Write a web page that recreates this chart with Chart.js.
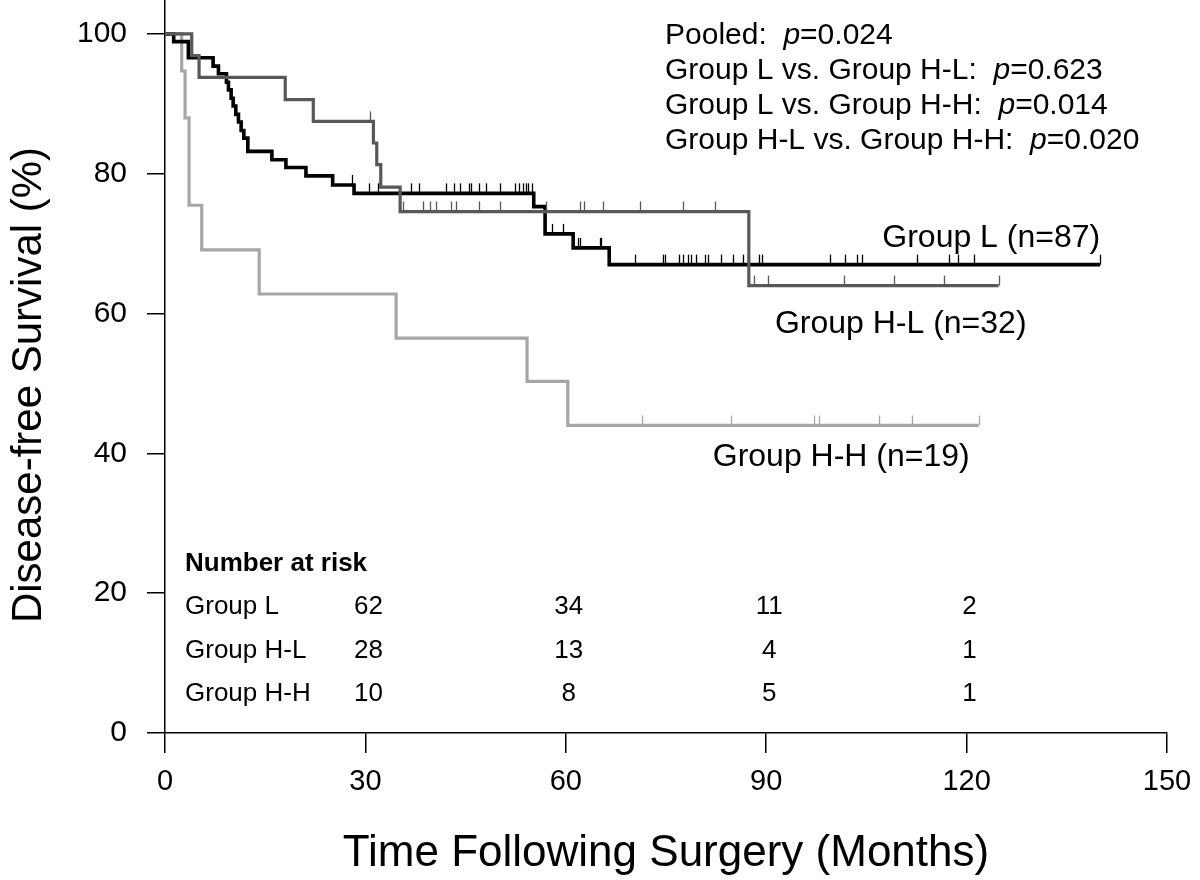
<!DOCTYPE html>
<html>
<head>
<meta charset="utf-8">
<script src="https://cdn.jsdelivr.net/npm/chart.js@4.4.1/dist/chart.umd.min.js"></script>
<style>
html, body { margin: 0; padding: 0; background: #fff; }
</style>
</head>
<body>
<canvas id="kmChart" width="1200" height="880"></canvas>
<script>
// Kaplan-Meier steps: time (months) of each drop and survival (%) after it
var groupLTimes = [0, 1.3, 3.5, 7.2, 8.0, 9.2, 9.5, 9.9, 10.2, 10.6, 11.0, 11.4, 11.8, 12.4, 16.0, 18.1, 21.1, 25.1, 28.3, 55.2, 56.9, 61.1, 66.5, 140];
var groupLSurv = [100, 98.9, 96.6, 95.4, 94.3, 93.1, 92.0, 90.8, 89.7, 88.5, 87.4, 86.2, 85.1, 83.2, 82.0, 80.9, 79.7, 78.4, 77.2, 75.3, 71.4, 69.4, 67.0, 67.0];
var groupLCensored = [28.0, 30.6, 31.9, 36.8, 38.0, 42.0, 43.2, 44.1, 45.5, 45.8, 47.0, 48.0, 50.1, 52.4, 53.0, 53.6, 54.0, 54.4, 54.9,
    58.0, 59.6, 61.8, 62.1, 65.1, 65.3, 70.3, 74.5, 74.8, 77.0, 77.6, 78.3, 78.8, 79.5, 80.8, 81.3, 83.3, 85.0, 86.6, 88.9, 89.3,
    99.6, 101.8, 103.6, 104.3, 112.6, 117.4, 118.7, 121.1, 140];

var groupHLTimes = [0, 4.0, 5.1, 18.0, 22.2, 31.2, 31.7, 32.3, 35.2, 87.4, 124.8];
var groupHLSurv = [100, 96.9, 93.8, 90.6, 87.5, 84.4, 81.3, 78.1, 74.6, 64.0, 64.0];
var groupHLCensored = [30.7, 35.6, 38.6, 39.6, 40.5, 42.8, 43.5, 47.0, 50.1, 57.1, 62.1, 62.7, 65.5, 71.1, 77.6, 82.3,
    88.2, 90.2, 101.6, 109.2, 116.6, 124.8];

var groupHHTimes = [0, 2.5, 3.0, 3.6, 5.5, 14.1, 34.6, 54.2, 60.3, 121.8];
var groupHHSurv = [100, 94.7, 88.0, 75.5, 69.1, 62.8, 56.5, 50.3, 44.0, 44.0];
var groupHHCensored = [71.4, 84.7, 97.1, 97.9, 106.9, 111.8, 121.8];

// number at risk table
var riskTimes = [30, 60, 90, 120];
var riskGroups = ["Group L", "Group H-L", "Group H-H"];
var riskL = [62, 34, 11, 2];
var riskHL = [28, 13, 4, 1];
var riskHH = [10, 8, 5, 1];

var pLabels = ["Pooled:", "Group L vs. Group H-L:", "Group L vs. Group H-H:", "Group H-L vs. Group H-H:"];
var pValues = ["0.024", "0.623", "0.014", "0.020"];

var xTicks = [0, 30, 60, 90, 120, 150];
var yTicks = [0, 20, 40, 60, 80, 100];

var FONT = '"Liberation Sans", Arial, Helvetica, sans-serif';
Chart.defaults.font.family = FONT;
Chart.defaults.color = '#000';

function toPoints(times, surv) {
    var pts = [];
    for (var i = 0; i < times.length; i++) {
        pts.push({x: times[i], y: surv[i]});
    }
    return pts;
}

function levelAt(times, surv, t) {
    var v = surv[0];
    for (var i = 0; i < times.length; i++) {
        if (times[i] <= t) v = surv[i];
    }
    return v;
}

var groups = [
    {times: groupLTimes, surv: groupLSurv, censored: groupLCensored, color: '#000000'},
    {times: groupHLTimes, surv: groupHLSurv, censored: groupHLCensored, color: '#585858'},
    {times: groupHHTimes, surv: groupHHSurv, censored: groupHHCensored, color: '#a6a6a6'}
];

var censorPlugin = {
    id: 'censorTicks',
    afterDatasetsDraw: function(chart) {
        var ctx = chart.ctx;
        var xs = chart.scales.x, ys = chart.scales.y;
        ctx.save();
        groups.forEach(function(g) {
            ctx.strokeStyle = g.color;
            ctx.lineWidth = 1.3;
            g.censored.forEach(function(t) {
                var px = Math.round(xs.getPixelForValue(t)) + 0.5;
                var py = ys.getPixelForValue(levelAt(g.times, g.surv, t));
                ctx.beginPath();
                ctx.moveTo(px, py);
                ctx.lineTo(px, py - 10);
                ctx.stroke();
            });
        });
        ctx.restore();
    }
};

var textPlugin = {
    id: 'annotations',
    afterDraw: function(chart) {
        var ctx = chart.ctx;
        var xs = chart.scales.x, ys = chart.scales.y;
        ctx.save();
        ctx.fillStyle = '#000';
        ctx.textBaseline = 'alphabetic';

        // p-values, top right
        for (var i = 0; i < pLabels.length; i++) {
            var x = 665, y = 44 + i * 35;
            ctx.font = '30px ' + FONT;
            ctx.textAlign = 'left';
            var head = pLabels[i] + '  ';
            ctx.fillText(head, x, y);
            x += ctx.measureText(head).width;
            ctx.font = 'italic 30px ' + FONT;
            ctx.fillText('p', x, y);
            x += ctx.measureText('p').width;
            ctx.font = '30px ' + FONT;
            ctx.fillText('=' + pValues[i], x, y);
        }

        // curve labels
        ctx.font = '32px ' + FONT;
        ctx.textAlign = 'right';
        ctx.fillText('Group L (n=87)', xs.getPixelForValue(140), ys.getPixelForValue(69.5));
        ctx.textAlign = 'left';
        ctx.fillText('Group H-L (n=32)', xs.getPixelForValue(91.3), ys.getPixelForValue(57.2));
        ctx.fillText('Group H-H (n=19)', xs.getPixelForValue(82.0), ys.getPixelForValue(38.2));

        // number at risk
        ctx.font = 'bold 26px ' + FONT;
        ctx.textAlign = 'left';
        ctx.fillText('Number at risk', 185, 571);
        var rows = [riskL, riskHL, riskHH];
        ctx.font = '26px ' + FONT;
        for (var r = 0; r < rows.length; r++) {
            var by = 614 + r * 43.5;
            ctx.textAlign = 'left';
            ctx.fillText(riskGroups[r], 185, by);
            ctx.textAlign = 'center';
            for (var c = 0; c < riskTimes.length; c++) {
                ctx.fillText(String(rows[r][c]), xs.getPixelForValue(riskTimes[c]) + 3, by);
            }
        }

        // y axis title
        ctx.translate(29, 385);
        ctx.rotate(-Math.PI / 2);
        ctx.font = '42px ' + FONT;
        ctx.textAlign = 'center';
        ctx.textBaseline = 'middle';
        ctx.fillText('Disease-free Survival (%)', 0, 0);
        ctx.restore();
    }
};

function dataset(g, order, width) {
    return {
        data: toPoints(g.times, g.surv),
        borderColor: g.color,
        borderWidth: width,
        stepped: true,
        pointRadius: 0,
        fill: false,
        order: order
    };
}

new Chart(document.getElementById('kmChart'), {
    type: 'line',
    data: {
        datasets: [
            dataset(groups[0], 1, 3.6),
            dataset(groups[1], 0, 3.2),
            dataset(groups[2], 2, 3.2)
        ]
    },
    options: {
        responsive: false,
        animation: false,
        layout: {padding: {left: 0, right: 33, top: 0, bottom: 0}},
        plugins: {legend: {display: false}, tooltip: {enabled: false}},
        scales: {
            x: {
                type: 'linear',
                min: 0,
                max: 150,
                afterBuildTicks: function(axis) {
                    axis.ticks = xTicks.map(function(v) { return {value: v}; });
                },
                afterFit: function(axis) {
                    axis.height = 147;
                    axis.paddingLeft = 0;
                    axis.paddingRight = 0;
                },
                ticks: {font: {size: 29}, color: '#000', padding: 12, maxRotation: 0, autoSkip: false},
                grid: {drawOnChartArea: false, tickLength: 20, color: '#000', lineWidth: 1.5},
                border: {color: '#000', width: 1.5},
                title: {display: true, text: 'Time Following Surgery (Months)', font: {size: 44}, color: '#000', padding: {top: 0, bottom: 0}}
            },
            y: {
                min: 0,
                max: 104.86,
                afterBuildTicks: function(axis) {
                    axis.ticks = yTicks.map(function(v) { return {value: v}; });
                },
                afterFit: function(axis) {
                    axis.width = 165;
                    axis.paddingTop = 0;
                    axis.paddingBottom = 0;
                },
                ticks: {font: {size: 30}, color: '#000', padding: 20, autoSkip: false},
                grid: {drawOnChartArea: false, tickLength: 18, color: '#000', lineWidth: 1.5},
                border: {color: '#000', width: 1.5}
            }
        }
    },
    plugins: [censorPlugin, textPlugin]
});
</script>
</body>
</html>
